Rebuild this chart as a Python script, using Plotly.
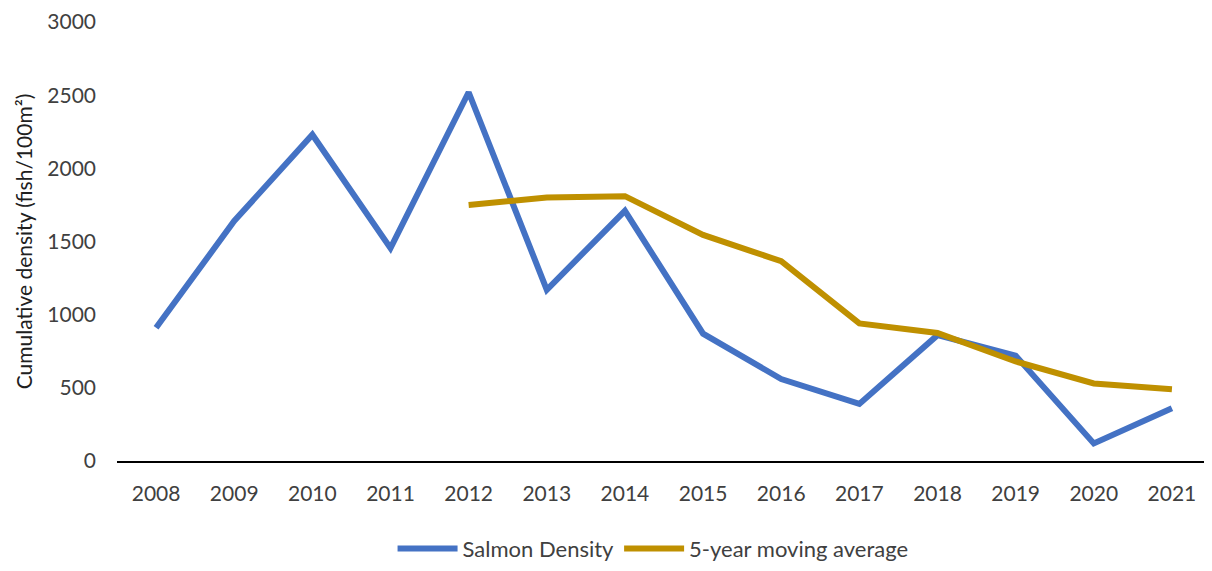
import plotly.graph_objects as go

years = ["2008", "2009", "2010", "2011", "2012", "2013", "2014",
         "2015", "2016", "2017", "2018", "2019", "2020", "2021"]
salmon_density = [910, 1640, 2230, 1455, 2520, 1170, 1710,
                  870, 560, 390, 860, 720, 120, 360]
moving_avg_years = ["2012", "2013", "2014", "2015", "2016", "2017",
                    "2018", "2019", "2020", "2021"]
moving_avg = [1750, 1800, 1810, 1545, 1365, 940, 875, 680, 530, 490]
y_ticks = [0, 500, 1000, 1500, 2000, 2500, 3000]

FONT = "Lato, 'Open Sans', sans-serif"

fig = go.Figure()
fig.add_trace(go.Scatter(x=years, y=salmon_density, mode="lines",
                         name="Salmon Density",
                         line=dict(color="#4472C4", width=6)))
fig.add_trace(go.Scatter(x=moving_avg_years, y=moving_avg, mode="lines",
                         name="5-year moving average",
                         line=dict(color="#BF9000", width=6)))

fig.update_layout(
    width=1204, height=563,
    margin=dict(l=109, r=1, t=14, b=103),
    plot_bgcolor="white", paper_bgcolor="white",
    font=dict(family=FONT, size=21, color="#404040"),
    showlegend=True,
    legend=dict(orientation="h", x=0.49, xanchor="center", y=-0.2,
                yanchor="middle", font=dict(size=22, color="#404040"),
                itemwidth=60, tracegroupgap=0),
    xaxis=dict(type="category", categoryorder="array", categoryarray=years,
               range=[-0.5, 13.5], automargin=False,
               showgrid=False, showline=True, linecolor="black", linewidth=2,
               ticks="", ticklabelstandoff=13, zeroline=False),
    yaxis=dict(range=[0, 3000], tickvals=y_ticks, showgrid=False,
               automargin=False, ticklabeloverflow="allow",
               showline=False, zeroline=False, ticks="",
               ticklabelstandoff=20,
               title=dict(text="Cumulative density (fish/100m²)",
                          font=dict(size=21, color="#202020"), standoff=8)),
)

fig.write_html("out.html")
